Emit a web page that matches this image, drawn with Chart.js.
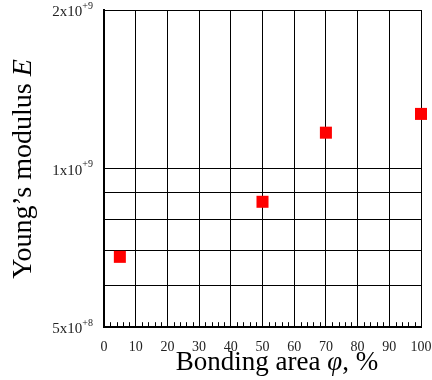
<!DOCTYPE html>
<html>
<head>
<meta charset="utf-8">
<script src="https://cdn.jsdelivr.net/npm/chart.js@4.4.1/dist/chart.umd.min.js"></script>
<style>
  html, body { margin: 0; padding: 0; background: #fff; }
  #wrap { width: 432px; height: 380px; position: relative; }
</style>
</head>
<body>
<div id="wrap"><canvas id="chart" width="432" height="380"></canvas></div>
<script>
// ── data ──
const bondingArea = [5, 50, 70, 100];                 // φ, %
const youngsModulus = [6.8e8, 8.65e8, 1.17e9, 1.27e9]; // E
const yGridValues = [5e8, 6e8, 7e8, 8e8, 9e8, 1e9, 2e9];
const yLabels = [
  { value: 5e8, mant: '5x10', exp: '+8' },
  { value: 1e9, mant: '1x10', exp: '+9' },
  { value: 2e9, mant: '2x10', exp: '+9' }
];
const xMinorStep = 2;

const SERIF = '"Liberation Serif", "DejaVu Serif", serif';

// y labels with superscript, axis titles with italic symbols, minor x ticks
const decorPlugin = {
  id: 'decor',
  afterDraw(chart) {
    const { ctx, chartArea, scales } = chart;
    const x = scales.x, y = scales.y;
    ctx.save();

    // minor ticks on the bottom axis, pointing inward
    ctx.strokeStyle = '#000';
    ctx.lineWidth = 1;
    for (let v = x.min; v <= x.max; v += xMinorStep) {
      if (v % 10 === 0) continue;
      const px = Math.round(x.getPixelForValue(v)) + 0.5;
      ctx.beginPath();
      ctx.moveTo(px, chartArea.bottom);
      ctx.lineTo(px, chartArea.bottom - 5);
      ctx.stroke();
    }

    // y tick labels like 2x10^+9
    ctx.fillStyle = '#222';
    ctx.textBaseline = 'middle';
    yLabels.forEach(l => {
      const py = y.getPixelForValue(l.value) + 2;
      ctx.font = '10px ' + SERIF;
      const ew = ctx.measureText(l.exp).width;
      ctx.textAlign = 'left';
      const right = chartArea.left - 11;
      ctx.fillText(l.exp, right - ew, py - 6);
      ctx.font = '15px ' + SERIF;
      ctx.textAlign = 'right';
      ctx.fillText(l.mant, right - ew, py);
    });

    // y title: Young’s modulus E (E italic)
    ctx.fillStyle = '#000';
    ctx.textBaseline = 'middle';
    ctx.translate(24, 169);
    ctx.rotate(-Math.PI / 2);
    const partA = 'Young’s modulus ';
    ctx.font = '28px ' + SERIF;
    const wa = ctx.measureText(partA).width;
    ctx.font = 'italic 28px ' + SERIF;
    const wb = ctx.measureText('E').width;
    let sx = -(wa + wb) / 2;
    ctx.textAlign = 'left';
    ctx.font = '28px ' + SERIF;
    ctx.fillText(partA, sx, 0);
    ctx.font = 'italic 28px ' + SERIF;
    ctx.fillText('E', sx + wa, 0);
    ctx.setTransform(1, 0, 0, 1, 0, 0);

    // x title: Bonding area φ, % (φ italic)
    ctx.textBaseline = 'alphabetic';
    const parts = [['Bonding area ', ''], ['φ', 'italic '], [', %', '']];
    let total = 0;
    parts.forEach(p => { ctx.font = p[1] + '27px ' + SERIF; total += ctx.measureText(p[0]).width; });
    let cx = 277 - total / 2;
    parts.forEach(p => {
      ctx.font = p[1] + '27px ' + SERIF;
      ctx.fillText(p[0], cx, 370);
      cx += ctx.measureText(p[0]).width;
    });
    ctx.restore();
  }
};

new Chart(document.getElementById('chart'), {
  type: 'scatter',
  data: {
    datasets: [{
      data: bondingArea.map((v, i) => ({ x: v, y: youngsModulus[i] })),
      backgroundColor: '#ff0000',
      borderWidth: 0,
      pointStyle: 'rect',
      pointRadius: 8.5,
      clip: false
    }]
  },
  options: {
    responsive: false,
    animation: false,
    layout: { padding: { left: 104, right: 11, top: 10, bottom: 12 } },
    plugins: { legend: { display: false }, tooltip: { enabled: false } },
    scales: {
      x: {
        type: 'linear',
        min: 0,
        max: 100,
        afterFit: scale => { scale.paddingRight = 0; scale.paddingLeft = 0; },
        ticks: { stepSize: 10, color: '#222', font: { family: SERIF, size: 14 }, padding: 12, maxRotation: 0 },
        grid: { color: '#000', lineWidth: 1, drawTicks: false },
        border: { color: '#000', width: 2 }
      },
      y: {
        type: 'logarithmic',
        min: 5e8,
        max: 2e9,
        afterBuildTicks: scale => { scale.ticks = yGridValues.map(v => ({ value: v })); },
        ticks: { display: false },
        grid: { color: '#000', lineWidth: 1, drawTicks: false },
        border: { color: '#000', width: 2 }
      }
    }
  },
  plugins: [decorPlugin]
});
</script>
</body>
</html>
